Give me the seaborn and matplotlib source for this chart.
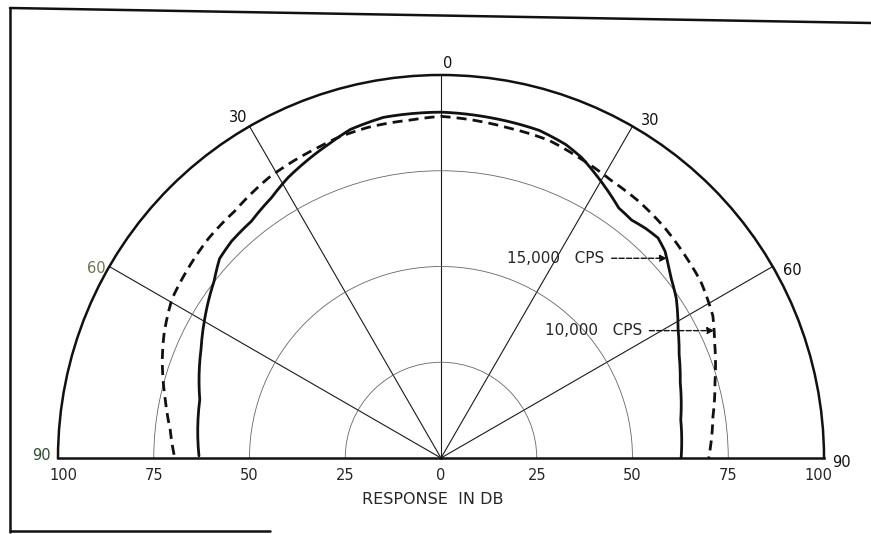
import numpy as np
import matplotlib
matplotlib.use('Agg')
import matplotlib.pyplot as plt
from matplotlib.lines import Line2D
import seaborn as sns

# off-axis angle in degrees (0 = on axis, minus = left) and response
theta_15k = [-89.5, -76.4, -65.6, -59.5, -52.1, -48.0, -44.0, -38.7, -33.1, -28.6,
             -19.8, -15.4, -9.6, 0.0, 8.1, 16.7, 21.7, 25.1, 28.7, 31.4, 35.4, 38.7,
             41.7, 44.6, 47.3, 49.7, 52.1, 55.9, 61.4, 66.5, 72.5, 80.9, 90.0]
resp_15k = [63.2, 64.8, 68.8, 71.6, 75.1, 77.8, 78.7, 79.2, 81.1, 83.4,
            87.0, 89.0, 90.2, 90.3, 89.8, 89.3, 88.1, 86.6, 84.3, 82.6, 80.1, 79.6,
            80.3, 80.7, 79.6, 77.8, 76.2, 74.2, 70.5, 67.8, 65.5, 63.4, 62.7]

theta_10k = [-89.3, -84.0, -78.0, -70.5, -65.5, -59.4, -55.3, -46.6, -39.9, -31.6,
             -26.3, -21.6, -17.8, -12.5, -5.2, 0.0, 11.2, 18.8, 24.7, 31.6, 37.6,
             44.3, 50.3, 55.8, 62.4, 67.0, 74.6, 81.4, 90.0]
resp_10k = [69.7, 71.1, 73.6, 77.2, 79.4, 81.6, 82.2, 83.5, 84.0, 85.9,
            86.6, 87.2, 87.9, 88.4, 88.6, 89.2, 88.0, 87.6, 86.3, 85.0, 84.6,
            83.8, 82.8, 82.0, 80.1, 77.6, 74.2, 71.8, 69.9]

ring_values = [25, 50, 75]
spoke_angles = [-60, -30, 0, 30, 60]
angle_labels = ['60', '30', '0', '30', '60']
scale_values = [25, 50, 75, 100]

# where each angle label sits relative to the end of its spoke (points)
angle_label_offsets = [(-9.4, -1.4), (-8.3, 6.5), (5, 8), (12.6, 4.3), (14.4, -2.9)]
angle_label_colors = ['#6f7450', '#111111', '#111111', '#111111', '#111111']

sns.set_style('white')
plt.rcParams['font.family'] = ['DejaVu Sans']

W, H = 871, 534
fig = plt.figure(figsize=(W / 100, H / 100), dpi=100)
# polar axes keeps a square box; the half disc sits in its middle
cx, cy, R = 441, 458, 383
box_top = cy - R / 2 - R  # pixels from the top of the figure
ax = fig.add_axes([(cx - R) / W, (H - box_top - 2 * R) / H, 2 * R / W, 2 * R / H],
                  projection='polar')
ax.set_theta_zero_location('N')
ax.set_theta_direction(-1)
ax.set_thetamin(-90)
ax.set_thetamax(90)
ax.set_rlim(0, 100)

ax.set_thetagrids(spoke_angles, labels=[''] * len(spoke_angles))
ax.set_rgrids(ring_values, labels=[''] * len(ring_values))
ax.xaxis.grid(True, color='#1a1a1a', lw=0.8)
ax.yaxis.grid(True, color='#666666', lw=0.6)
ax.tick_params(length=0)
for side in ['polar', 'start', 'end']:
    ax.spines[side].set_linewidth(1.8)
    ax.spines[side].set_color('#111111')

# curves
sns.lineplot(x=np.deg2rad(theta_15k), y=resp_15k, ax=ax, color='#111111', lw=2.0,
             sort=False, estimator=None)
sns.lineplot(x=np.deg2rad(theta_10k), y=resp_10k, ax=ax, color='#111111', lw=2.0,
             sort=False, estimator=None)
ax.lines[-1].set_dashes([3.6, 2.2])
for ln in ax.lines[-2:]:
    ln.get_path()._interpolation_steps = 6  # follow arcs between read points
ax.set_xlabel('')
ax.set_ylabel('')

# angle labels round the outside
for a, lab, off, col in zip(spoke_angles, angle_labels, angle_label_offsets, angle_label_colors):
    ax.annotate(lab, xy=(np.deg2rad(a), 100), xytext=off, textcoords='offset points',
                ha='center', va='center', fontsize=10.5, color=col)
ax.annotate('90', xy=(np.deg2rad(-90), 100), xytext=(-5, 2), textcoords='offset points',
            ha='right', va='center', fontsize=10.5, color='#2e4b30')
ax.annotate('90', xy=(np.deg2rad(90), 100), xytext=(6, -3), textcoords='offset points',
            ha='left', va='center', fontsize=10.5, color='#111111')

# response scale along the base
for v in scale_values:
    dx = 4 if v == 100 else 0
    for side in (-1, 1):
        ax.annotate(str(v), xy=(np.deg2rad(side * 90), v), xytext=(-side * dx, -7),
                    textcoords='offset points', ha='center', va='top', fontsize=10.5)
ax.annotate('0', xy=(0, 0), xytext=(0, -7), textcoords='offset points',
            ha='center', va='top', fontsize=10.5)
fig.text(433 / W, 1 - 500 / H, 'RESPONSE  IN DB', ha='center', va='center', fontsize=11.5)

# curve labels
tip15 = 48.5
tip10 = 65.0
arrow = dict(arrowstyle='-|>', linestyle='--', lw=1.0, color='#111111',
             mutation_scale=10, shrinkA=3, shrinkB=0)
ax.annotate('15,000   CPS', xy=(np.deg2rad(tip15), np.interp(tip15, theta_15k, resp_15k)),
            xytext=(-45, 0), textcoords='offset points', ha='right', va='center',
            fontsize=11, arrowprops=arrow)
ax.annotate('10,000   CPS', xy=(np.deg2rad(tip10), np.interp(tip10, theta_10k, resp_10k)),
            xytext=(-52, 0), textcoords='offset points', ha='right', va='center',
            fontsize=11, arrowprops=arrow)

# scanned page border
fig.add_artist(Line2D([10 / W, 1.0], [1 - 8 / H, 1 - 23 / H], transform=fig.transFigure,
                      color='#111111', lw=1.8))
fig.add_artist(Line2D([10 / W, 10 / W], [1 - 8 / H, 1 - 532 / H],
                      transform=fig.transFigure, color='#111111', lw=1.8))
fig.add_artist(Line2D([10 / W, 270 / W], [1 - 531 / H, 1 - 531 / H],
                      transform=fig.transFigure, color='#111111', lw=1.8))

fig.savefig('out.png', dpi=100)
